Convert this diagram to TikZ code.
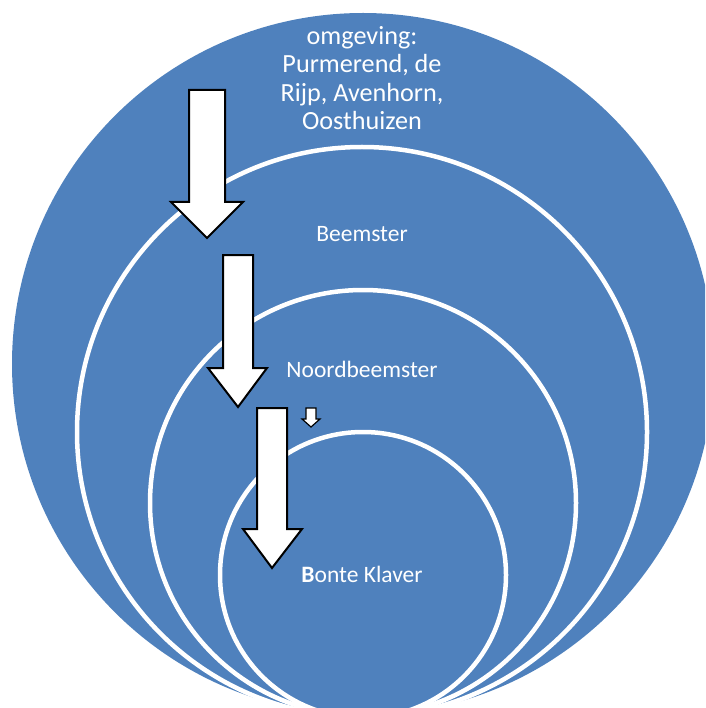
\documentclass[tikz,border=0pt]{standalone}
\usepackage{fontspec}
\setmainfont{Carlito}
\definecolor{ringblue}{HTML}{4F81BD}
\tikzset{
  outerring/.style={circle, fill=ringblue, inner sep=0pt},
  innerring/.style={circle, fill=ringblue, draw=white, line width=4.5pt, inner sep=0pt},
  lbl/.style={text=white, align=center, font=\fontsize{23.5}{28.5}\selectfont, inner sep=0pt},
  toplbl/.style={lbl, font=\fontsize{26.2}{28.5}\selectfont},
  bigarrow/.style={fill=white, draw=black, line width=2pt, line join=miter},
}
\begin{document}
\begin{tikzpicture}[x=1pt,y=-1pt]
\useasboundingbox (0,0) rectangle (705,708);
\clip (0,0) rectangle (705,708);
\node[outerring, minimum size=702pt] (c1) at (363,364) {};
\node[innerring, minimum size=570pt] (c2) at (362,432) {};
\node[innerring, minimum size=426pt] (c3) at (363,503) {};
\node[innerring, minimum size=286pt] (c4) at (363,575) {};
% arrows
\draw[bigarrow] (189,90) -- (225,90) -- (225,202) -- (243,202) -- (207,238) -- (171,202) -- (189,202) -- cycle;
\draw[bigarrow] (223,255) -- (253,255) -- (253,368) -- (267,368) -- (238,407) -- (208,368) -- (223,368) -- cycle;
\draw[bigarrow] (257,408) -- (287,408) -- (287,529) -- (302,529) -- (272,568) -- (243,529) -- (257,529) -- cycle;
\draw[fill=white, draw=black, line width=1.2pt, line join=miter] (306,408) -- (316,408) -- (316,419) -- (320,419) -- (311,427) -- (302,419) -- (306,419) -- cycle;
% labels
\node[toplbl, anchor=base] (t1) at (362,130) {omgeving:\\Purmerend, de\\Rijp, Avenhorn,\\Oosthuizen};
\node[lbl, anchor=base] (t2) at (362,242) {Beemster};
\node[lbl, anchor=base] (t3) at (362,377) {Noordbeemster};
\node[lbl, anchor=base] (t4) at (362,582) {\textbf{B}onte Klaver};
\end{tikzpicture}
\end{document}
